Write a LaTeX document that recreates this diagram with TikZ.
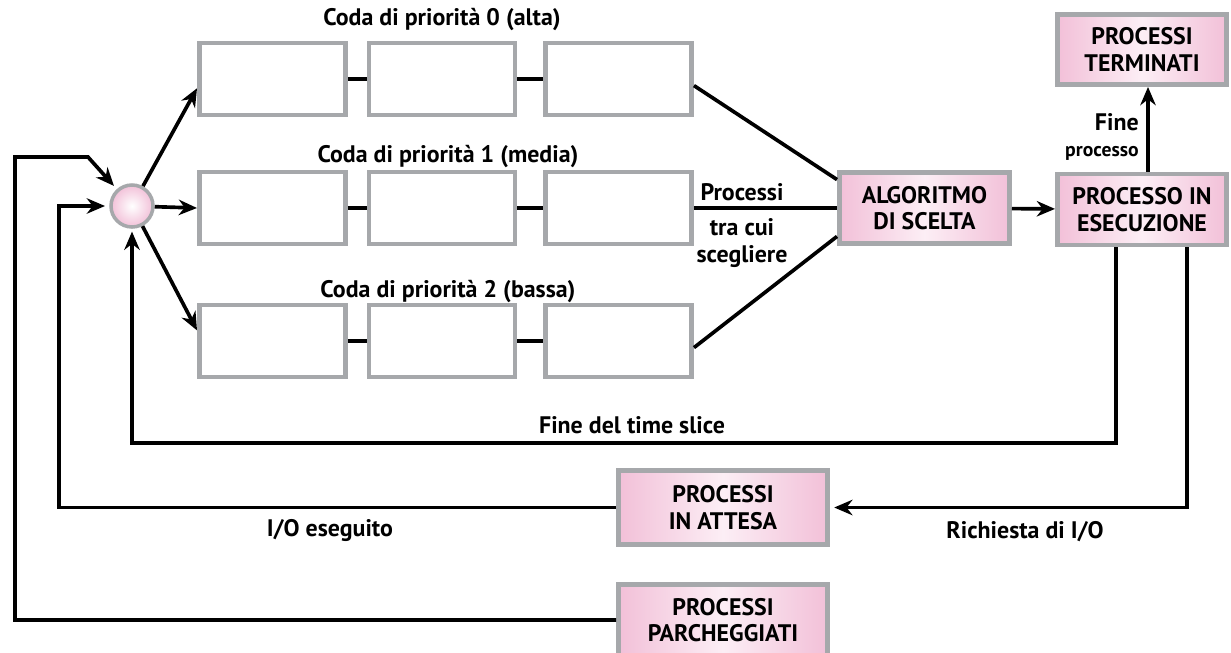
\documentclass[tikz,border=0pt]{standalone}
\usepackage{fontspec}
\setmainfont{PT Sans}
\usetikzlibrary{arrows.meta}
\definecolor{bordo}{RGB}{166,168,171}
\definecolor{rosa}{RGB}{242,192,216}
\definecolor{rosachiaro}{RGB}{252,238,245}
\tikzset{
  coda/.style={draw=bordo, line width=3.5pt, fill=white, minimum width=3.65cm, minimum height=1.8cm, inner sep=0pt},
  blocco/.style={draw=bordo, line width=3.5pt, left color=rosa, right color=rosa, middle color=rosachiaro, align=center, font=\fontsize{17}{19}\selectfont\bfseries, inner sep=0pt},
  linea/.style={line width=2.6pt},
  freccia/.style={line width=2.6pt, -{Stealth[length=13pt,width=11pt]}},
  testo/.style={font=\fontsize{17}{19}\selectfont\bfseries, inner sep=0pt}
}
\begin{document}
\begin{tikzpicture}[x=0.025cm, y=-0.025cm]
\useasboundingbox (0,0) rectangle (1231,652);
% code di priorita
\foreach \r/\y in {0/79,1/208,2/341}
  \foreach \c/\x in {0/272.5,1/442,2/618.5}
    \node[coda] (q\r\c) at (\x,\y) {};
\foreach \r in {0,1,2}
  \draw[linea, line width=3pt] (q\r0) -- (q\r1) (q\r1) -- (q\r2);
\node[testo] (t0) at (442,20) {Coda di priorità 0 (alta)};
\node[testo] (t1) at (448,157) {Coda di priorità 1 (media)};
\node[testo] (t2) at (448,292) {Coda di priorità 2 (bassa)};
% blocchi
\node[draw=bordo, line width=2.5pt, circle, minimum size=1.05cm, inner sep=0pt, inner color=white, outer color=rosa] (cerchio) at (132,206) {};
\node[blocco, minimum width=4.25cm, minimum height=1.775cm] (alg) at (924.5,208) {ALGORITMO\\DI SCELTA};
\node[blocco, minimum width=4.225cm, minimum height=1.775cm] (ese) at (1142,209.5) {PROCESSO IN\\ESECUZIONE};
\node[blocco, minimum width=4.225cm, minimum height=1.75cm] (term) at (1142,49.5) {PROCESSI\\TERMINATI};
\node[blocco, minimum width=5.225cm, minimum height=1.85cm] (attesa) at (723,507.5) {PROCESSI\\IN ATTESA};
\node[blocco, minimum width=5.225cm, minimum height=1.775cm] (parch) at (723,620) {PROCESSI\\PARCHEGGIATI};
% frecce dal cerchio
\draw[freccia] (cerchio) -- (q00.187);
\draw[freccia] (cerchio) -- (q10.west);
\draw[freccia] (cerchio) -- (q20.172);
% verso l'algoritmo
\draw[linea] (q02.355) -- (alg.162);
\draw[linea] (q12) -- (alg);
\draw[linea] (q22.355) -- (alg.198);
\node[testo] (proc) at (742,192) {Processi};
\node[testo, align=center] (scelta) at (742,243) {tra cui\\scegliere};
\draw[freccia] (alg) -- (ese);
\draw[freccia] ([xshift=0.15cm]ese.north) -- ([xshift=0.15cm]term.south);
\node[testo, anchor=east, align=right] (fine) at (1139,137) {Fine\\{\fontsize{14}{16}\selectfont processo}};
% ritorni
\coordinate (slice) at (132,443);
\draw[freccia, shorten >=2pt] ([xshift=-0.65cm]ese.south) |- (slice) -- (cerchio);
\node[testo] (tslice) at (632,425) {Fine del time slice};
\draw[freccia, shorten >=3pt] ([xshift=1.125cm]ese.south) |- (attesa.east);
\node[testo] (rich) at (1025,532) {Richiesta di I/O};
\coordinate (io) at (59,206);
\draw[freccia, shorten >=3pt] (attesa.west) -| (io) -- (cerchio);
\node[testo] (ioes) at (330,530) {I/O eseguito};
\coordinate (pk1) at (15,157);
\coordinate (pk2) at (88,157);
\draw[freccia, shorten >=3pt] (parch.west) -| (pk1) -- (pk2) -- (cerchio);
\end{tikzpicture}
\end{document}
